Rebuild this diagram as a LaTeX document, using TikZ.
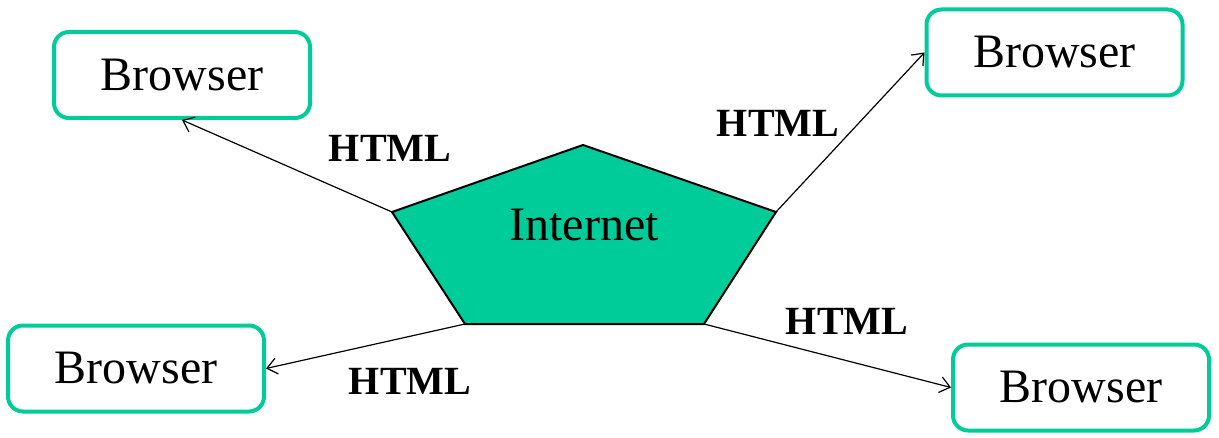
\documentclass[tikz,border=0pt]{standalone}
\usepackage{fontspec}
\setmainfont{Liberation Serif}
\usetikzlibrary{arrows.meta}
\definecolor{netgreen}{RGB}{0,204,153}
\tikzset{
	browser/.style={
			draw=netgreen, line width=2pt, rounded corners=7.5pt,
			minimum width=128pt, minimum height=43pt,
			font=\fontsize{24}{28}\selectfont
		},
	label/.style={font=\fontsize{20}{24}\selectfont\bfseries},
	link/.style={-{Straight Barb[length=5pt,width=8pt]}, line width=0.6pt}
}

\begin{document}
\begin{tikzpicture}[x=0.5pt, y=-0.5pt]
        \useasboundingbox (0, 0) rectangle (1219, 438);
        \node [browser] (tl) at (182, 75) {Browser};
        \node [browser] (tr) at (1054.5, 52.5) {Browser};
        \node [browser] (bl) at (136, 368.5) {Browser};
        \node [browser] (br) at (1081, 387.5) {Browser};
        \coordinate (pt) at (583, 145);
        \coordinate (pl) at (392, 212);
        \coordinate (pr) at (776, 212);
        \coordinate (pbl) at (465, 324);
        \coordinate (pbr) at (704, 324);
        \draw [line width=1pt, fill=netgreen] (pt) -- (pr) -- (pbr) -- (pbl) -- (pl) -- cycle;
        \node [font=\fontsize{24}{28}\selectfont] (net) at (584, 225) {Internet};
        \draw [link] (pl) -- (tl.south);
        \draw [link] (pr) -- (tr.west);
        \draw [link] (pbl) -- (bl.east);
        \draw [link] (pbr) -- (br.west);
        \node [label] (htl) at (390, 148) {HTML};
        \node [label] (htr) at (778, 123) {HTML};
        \node [label] (hbl) at (410, 381) {HTML};
        \node [label] (hbr) at (847, 321) {HTML};
    \end{tikzpicture}
\end{document}
